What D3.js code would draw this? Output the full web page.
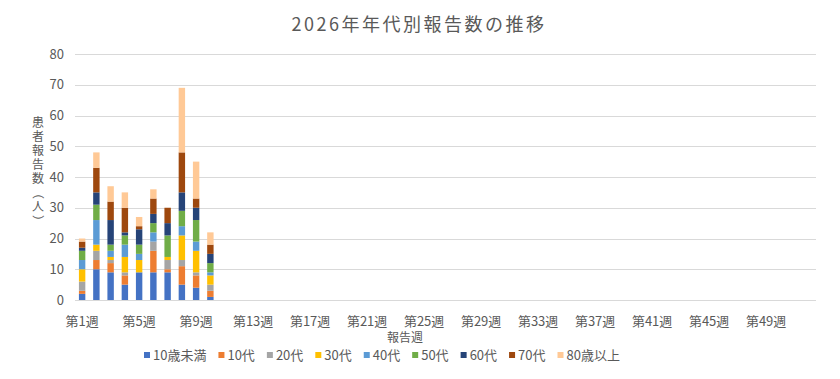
<!DOCTYPE html>
<html>
<head>
<meta charset="utf-8">
<script src="https://cdn.jsdelivr.net/npm/d3@7"></script>
<style>
  body { margin: 0; background: #fff; }
  text { font-family: "Noto Sans CJK JP", "Noto Sans", sans-serif; fill: #595959; }
</style>
</head>
<body>
<div id="chart"></div>
<script>
// data for 2026, weeks 1-10 reported so far
let weeks = d3.range(1, 53).map(w => `第${w}週`);
let tickWeeks = ["第1週", "第5週", "第9週", "第13週", "第17週", "第21週", "第25週",
    "第29週", "第33週", "第37週", "第41週", "第45週", "第49週"];
let yTicks = [0, 10, 20, 30, 40, 50, 60, 70, 80];

let ageGroups = ["10歳未満", "10代", "20代", "30代", "40代", "50代", "60代", "70代", "80歳以上"];
let colors = ["#4472C4", "#ED7D31", "#A5A5A5", "#FFC000", "#5B9BD5", "#70AD47", "#264478", "#9E480E", "#FFC996"];

let under10 = [2, 10, 9, 5, 9, 9, 9, 5, 4, 1];
let teens   = [1, 3, 3, 3, 0, 7, 1, 6, 4, 2];
let age20s  = [3, 3, 1, 1, 0, 3, 3, 2, 1, 2];
let age30s  = [4, 2, 1, 5, 4, 0, 1, 8, 7, 3];
let age40s  = [3, 8, 2, 4, 2, 3, 0, 3, 3, 1];
let age50s  = [3, 5, 2, 3, 3, 3, 7, 5, 7, 3];
let age60s  = [1, 4, 8, 1, 5, 3, 4, 6, 4, 3];
let age70s  = [2, 8, 6, 8, 1, 5, 5, 13, 3, 3];
let over80  = [1, 5, 5, 5, 3, 3, 0, 21, 12, 4];

let series = [under10, teens, age20s, age30s, age40s, age50s, age60s, age70s, over80];

let WIDTH = 840, HEIGHT = 379;
let PLOT = {left: 75, right: 816, top: 54, bottom: 300};

let rows = under10.map((v, i) => {
    let row = {week: weeks[i]};
    ageGroups.forEach((g, j) => { row[g] = series[j][i]; });
    return row;
});

let svg = d3.select('#chart')
    .append('svg')
    .attr('width', WIDTH)
    .attr('height', HEIGHT);

let x = d3.scaleBand()
    .domain(weeks)
    .range([PLOT.left, PLOT.right])
    .paddingInner(0.55)
    .paddingOuter(0.275);

let y = d3.scaleLinear()
    .domain([0, 80])
    .range([PLOT.bottom, PLOT.top]);

// title
svg.append('text')
    .attr('x', 419)
    .attr('y', 31)
    .attr('text-anchor', 'middle')
    .style('font-size', '18px')
    .style('letter-spacing', '2.5px')
    .text('2026年年代別報告数の推移');

// gridlines
svg.append('g')
    .selectAll('line')
    .data(yTicks)
    .enter()
    .append('line')
    .attr('x1', PLOT.left)
    .attr('x2', PLOT.right)
    .attr('y1', d => Math.round(y(d)) + 0.5)
    .attr('y2', d => Math.round(y(d)) + 0.5)
    .attr('stroke', '#D9D9D9')
    .attr('stroke-width', 1);

// y tick labels
svg.append('g')
    .selectAll('text')
    .data(yTicks)
    .enter()
    .append('text')
    .attr('x', 64)
    .attr('y', d => y(d))
    .attr('dy', '0.35em')
    .attr('text-anchor', 'end')
    .style('font-size', '13px')
    .text(d => d);

// x tick labels
svg.append('g')
    .selectAll('text')
    .data(tickWeeks)
    .enter()
    .append('text')
    .attr('x', d => x(d) + x.bandwidth() / 2)
    .attr('y', 326)
    .attr('text-anchor', 'middle')
    .style('font-size', '13px')
    .text(d => d);

// stacked bars
let stacked = d3.stack().keys(ageGroups)(rows);

svg.append('g')
    .selectAll('g')
    .data(stacked)
    .enter()
    .append('g')
    .attr('fill', (d, i) => colors[i])
    .selectAll('rect')
    .data(d => d)
    .enter()
    .append('rect')
    .attr('x', d => x(d.data.week))
    .attr('width', x.bandwidth())
    .attr('y', d => y(d[1]))
    .attr('height', d => y(d[0]) - y(d[1]));

// axis titles
svg.append('text')
    .attr('x', 405)
    .attr('y', 342)
    .attr('text-anchor', 'middle')
    .style('font-size', '12px')
    .text('報告週');

// y title: one text, one character per line; brackets turned a quarter
let yTitle = Array.from('患者報告数（人）');
let FS = 12, STEP = 14, TOP = 123, CX = 38;
svg.append('text')
    .style('font-size', FS + 'px')
    .selectAll('tspan')
    .data(yTitle)
    .enter()
    .append('tspan')
    .attr('text-anchor', 'middle')
    .attr('x', d => (d === '（' || d === '）') ? CX + 1.4 : CX)
    .attr('y', (d, i) => (d === '（' || d === '）')
        ? TOP + i * STEP - 6
        : TOP + i * STEP + 0.36 * FS)
    .attr('rotate', d => (d === '（' || d === '）') ? 90 : 0)
    .text(d => d);

// legend
let legend = svg.append('g');
let lx = 144;
ageGroups.forEach((g, i) => {
    legend.append('rect')
        .attr('x', lx)
        .attr('y', 352)
        .attr('width', 6)
        .attr('height', 6)
        .attr('fill', colors[i]);
    let t = legend.append('text')
        .attr('x', lx + 9)
        .attr('y', 355)
        .attr('dy', '0.35em')
        .style('font-size', '13px')
        .text(g);
    lx += 9 + t.node().getComputedTextLength() + 12;
});
</script>
</body>
</html>
